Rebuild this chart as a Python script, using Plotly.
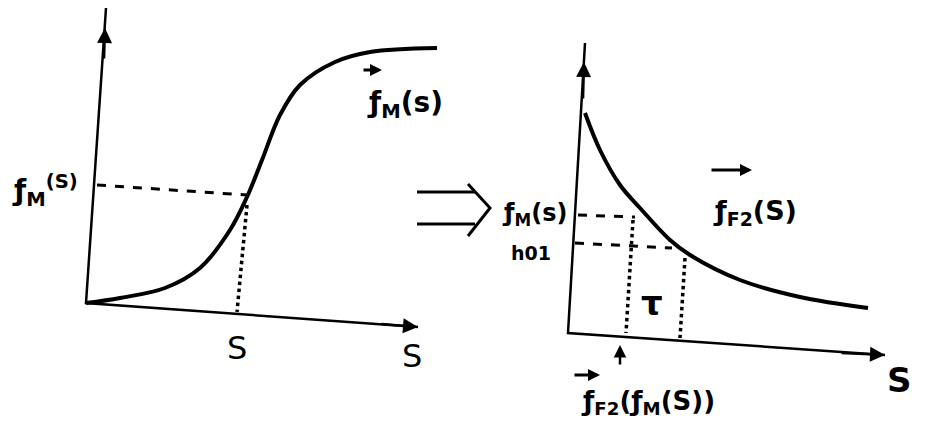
import plotly.graph_objects as go

# Left panel: S-shaped curve f_M(s), pixel coordinates
left_curve_x = [86, 120, 165, 200, 230, 247, 262, 280, 300, 335, 370, 437]
left_curve_y = [303, 298, 288, 268, 230, 197, 160, 115, 85, 62, 52, 48]
left_axis_x = [106, 86, 418]
left_axis_y = [8, 303, 327]
left_hdash_x = [97, 247]
left_hdash_y = [185, 195]
left_vdot_x = [247, 237]
left_vdot_y = [205, 312]

# Right panel: decreasing curve f_F2(s)
right_curve_x = [585, 600, 620, 640, 670, 690, 740, 800, 868]
right_curve_y = [113, 150, 185, 208, 240, 255, 280, 297, 308]
right_axis_x = [585, 568, 885]
right_axis_y = [43, 333, 355]
right_hdash1_x = [578, 635]
right_hdash1_y = [215, 217]
right_hdash2_x = [575, 672]
right_hdash2_y = [243, 248]
right_vdot1_x = [633, 626]
right_vdot1_y = [220, 333]
right_vdot2_x = [685, 680]
right_vdot2_y = [258, 338]

# Double arrow between the panels
imply_top_x = [417, 475]
imply_top_y = [192, 192]
imply_bot_x = [417, 475]
imply_bot_y = [224, 224]
imply_head_x = [468, 490, 468]
imply_head_y = [184, 208, 236]

FONT = "DejaVu Sans"
INK = "black"
PAGE_MARGIN = 8  # default body margin of the html page


def line(x, y, width=3, dash="solid", shape="linear"):
    return go.Scatter(x=x, y=y, mode="lines", hoverinfo="skip",
                      line=dict(color=INK, width=width, dash=dash, shape=shape))


def main():
    fig = go.Figure()

    # curves
    fig.add_trace(line(left_curve_x, left_curve_y, width=4, shape="spline"))
    fig.add_trace(line(right_curve_x, right_curve_y, width=4, shape="spline"))

    # axes
    fig.add_trace(line(left_axis_x, left_axis_y, width=2.5))
    fig.add_trace(line(right_axis_x, right_axis_y, width=2.5))

    # guide lines
    fig.add_trace(line(left_hdash_x, left_hdash_y, width=3, dash="dash"))
    fig.add_trace(line(left_vdot_x, left_vdot_y, width=3.5, dash="dot"))
    fig.add_trace(line(right_hdash1_x, right_hdash1_y, width=3, dash="dash"))
    fig.add_trace(line(right_hdash2_x, right_hdash2_y, width=3, dash="dash"))
    fig.add_trace(line(right_vdot1_x, right_vdot1_y, width=3.5, dash="dot"))
    fig.add_trace(line(right_vdot2_x, right_vdot2_y, width=3.5, dash="dot"))

    # implication arrow
    fig.add_trace(line(imply_top_x, imply_top_y, width=3))
    fig.add_trace(line(imply_bot_x, imply_bot_y, width=3))
    fig.add_trace(line(imply_head_x, imply_head_y, width=3))

    annotations = []

    # arrow heads on axes
    def head(x, y, fx, fy, size=1.2):
        annotations.append(dict(x=x, y=y, ax=fx, ay=fy, xref="x", yref="y",
                                axref="x", ayref="y", text="", showarrow=True,
                                arrowhead=2, arrowsize=size, arrowwidth=2.5,
                                arrowcolor=INK))

    head(left_axis_x[0] - 1, 28, left_axis_x[0] - 2, 60)
    head(left_axis_x[2], left_axis_y[2], 380, 324)
    head(right_axis_x[0] - 1, 62, right_axis_x[0] - 2, 100)
    head(right_axis_x[2], right_axis_y[2], 840, 353)
    # small upward arrow under right x axis
    head(620, 345, 620, 366, size=1.0)

    def label(x, y, text, size=22, bold=True):
        if bold:
            text = "<b>" + text + "</b>"
        annotations.append(dict(x=x, y=y, xref="x", yref="y", text=text,
                                showarrow=False,
                                font=dict(family=FONT, size=size, color=INK)))

    def vec(x0, x1, y):
        # small arrow drawn above a vector symbol
        annotations.append(dict(x=x1, y=y, ax=x0, ay=y,
                                xref="x", yref="y", axref="x", ayref="y",
                                text="", showarrow=True, arrowhead=2,
                                arrowsize=0.8, arrowwidth=3, arrowcolor=INK))

    # left panel labels
    label(45, 190, "ƒ<sub>M</sub><sup>(S)</sup>", 28)
    label(237, 348, "S", 32, bold=False)
    label(412, 356, "S", 32, bold=False)
    label(405, 104, "ƒ<sub>M</sub>(s)", 28)
    vec(362, 382, 70)

    # right panel labels
    label(534, 214, "ƒ<sub>M</sub>(s)", 24)
    label(531, 253, "h01", 19)
    label(652, 303, "τ", 34)
    label(755, 212, "ƒ<sub>F2</sub>(S)", 27)
    vec(710, 752, 170)
    label(899, 380, "S", 34)
    label(648, 402, "ƒ<sub>F2</sub>(ƒ<sub>M</sub>(S))", 26)
    vec(573, 600, 375)

    fig.update_layout(
        width=951 - PAGE_MARGIN, height=441 - 2 * PAGE_MARGIN,
        margin=dict(l=0, r=0, t=0, b=0),
        paper_bgcolor="white", plot_bgcolor="white",
        showlegend=False,
        xaxis=dict(range=[PAGE_MARGIN, 951], visible=False, fixedrange=True),
        yaxis=dict(range=[441 - PAGE_MARGIN, PAGE_MARGIN], visible=False,
                   fixedrange=True),
        annotations=annotations,
    )

    fig.write_html("out.html")


if __name__ == "__main__":
    main()
